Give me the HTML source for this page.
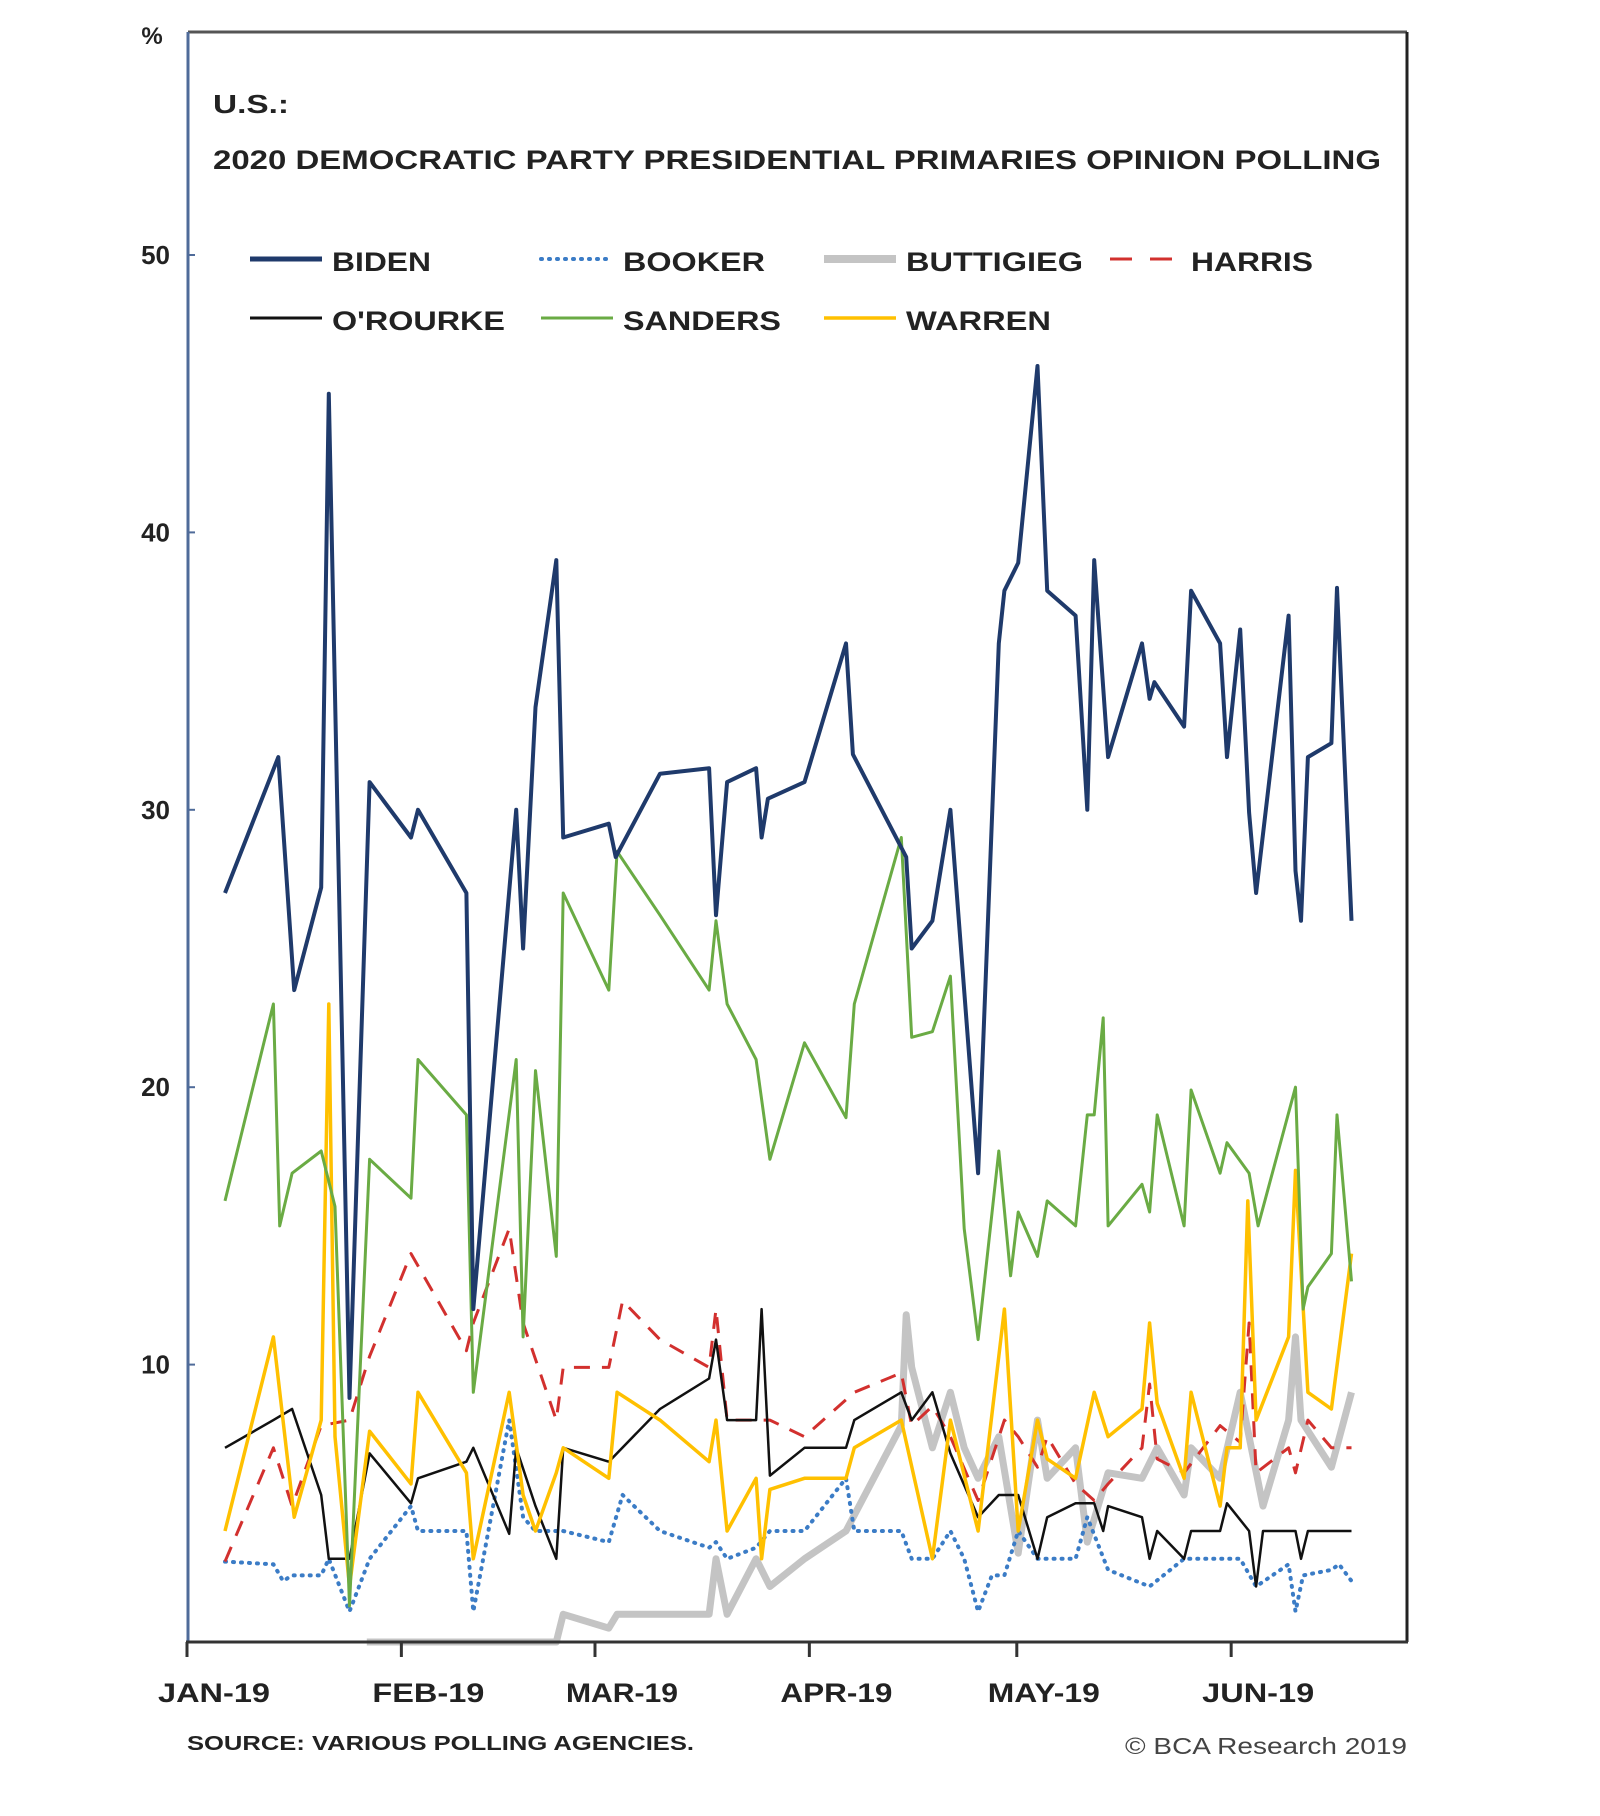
<!DOCTYPE html>
<html><head><meta charset="utf-8"><style>
html,body{margin:0;padding:0;background:#fff;}
svg{display:block;font-family:"Liberation Sans",sans-serif;}
</style></head><body>
<svg id="chart" width="1600" height="1816" viewBox="0 0 1600 1816" xmlns="http://www.w3.org/2000/svg">
<rect x="0" y="0" width="1600" height="1816" fill="#fff"/>
<text x="152" y="44" font-size="24" font-weight="bold" text-anchor="middle" fill="#222">%</text>
<text x="213" y="113" font-size="26" font-weight="bold" fill="#222" textLength="76" lengthAdjust="spacingAndGlyphs">U.S.:</text>
<text x="213" y="169" font-size="27" font-weight="bold" fill="#222" textLength="1168" lengthAdjust="spacingAndGlyphs">2020 DEMOCRATIC PARTY PRESIDENTIAL PRIMARIES OPINION POLLING</text>
<g id="legend"></g>
<g id="marks"></g>
<g id="axes"></g>
<text x="187" y="1750" font-size="20" font-weight="bold" fill="#222" textLength="507" lengthAdjust="spacingAndGlyphs">SOURCE: VARIOUS POLLING AGENCIES.</text>
<text x="1125" y="1754" font-size="23" fill="#444" textLength="282" lengthAdjust="spacingAndGlyphs">© BCA Research 2019</text>
</svg>
<script>
// Data: day-of-year offsets (day 0 = Jan 1 2019) and poll percentages
const bidenDays=[5.5,13.2,15.5,19.4,20.5,23.5,26.4,32.4,33.4,40.4,41.4,47.6,48.6,50.4,53.4,54.4,61,62,68.4,75.5,76.5,78.1,82.3,83.1,84,89.3,95.3,96.3,104,104.8,107.8,110.4,114.4,117.4,118.2,120.2,123,124.4,128.5,130.2,131.2,133.2,138.1,139.2,139.9,144.2,145.2,149.4,150.4,152.3,153.6,154.6,159.3,160.3,161.1,162.1,165.5,166.3,168.4];
const bidenVals=[27,31.9,23.5,27.2,45,8.8,31,29,30,27,12,30,25,33.7,39,29,29.5,28.3,31.3,31.5,26.2,31,31.5,29,30.4,31,36,32,28.3,25,26,30,16.9,36,37.9,38.9,46,37.9,37,30,39,31.9,36,34,34.6,33,37.9,36,31.9,36.5,29.9,27,37,27.8,26,31.9,32.4,38,26];
const sandersDays=[5.5,12.5,13.4,15.2,19.4,21.4,23.5,26.4,32.4,33.4,40.4,41.4,47.6,48.6,50.4,53.4,54.4,61,62.2,68.4,75.5,76.5,78.1,82.3,84.3,89.3,95.3,96.5,103.3,104.8,107.8,110.4,112.4,114.4,117.4,119.1,120.2,123,124.4,128.5,130.2,131.2,132.5,133.2,138.1,139.2,140.3,144.2,145.2,149.4,150.4,153.6,154.9,160.3,161.4,162.1,165.5,166.3,168.4];
const sandersVals=[15.9,23,15,16.9,17.7,15.7,1.3,17.4,16,21,19,9,21,11,20.6,13.9,27,23.5,28.5,26.2,23.5,26,23,21,17.4,21.6,18.9,23,29,21.8,22,24,14.9,10.9,17.7,13.2,15.5,13.9,15.9,15,19,19,22.5,15,16.5,15.5,19,15,19.9,16.9,18,16.9,15,20,12,12.8,14,19,13];
const harrisDays=[5.5,12.5,15.2,19.4,23.5,26.4,32.4,40.4,41.4,46.6,48.6,53.4,54.4,61,63,68.4,75.5,76.5,78.1,82.3,84.3,89.3,96.5,103.3,104.8,107.8,110.4,114.4,118.2,120.2,123,124.4,128.5,131.2,133.2,138.1,139.2,140.3,144.2,149.4,152.3,153.6,154.6,159.3,160.3,162.1,165.5,168.4];
const harrisVals=[2.9,7,4.9,7.8,8,10.3,14,10.5,11.5,14.9,11.5,8,9.9,9.9,12.3,10.9,9.9,12,8,8,8,7.4,9,9.7,7.8,8.5,7.4,5.1,8,7.4,6.3,7.4,5.7,5.1,5.7,7,9.3,6.6,6.1,7.8,7.2,11.5,6.1,7,6.1,8,7,7];
const orourkeDays=[5.5,12.5,15.2,19.4,20.5,23.5,26.4,32.4,33.4,40.4,41.4,46.6,47.6,50.4,53.4,54.4,61,68.4,75.5,76.5,78.1,82.3,83.1,84.3,89.3,95.3,96.5,103.3,104.8,107.8,110.4,114.4,117.4,120.2,123,124.4,128.5,131.2,132.5,133.2,138.1,139.2,140.3,144.2,145.2,149.4,150.4,153.6,154.6,155.6,160.3,161.1,162.1,168.4];
const orourkeVals=[7,8,8.4,5.3,3,3,6.8,5,5.9,6.5,7,3.9,7,4.9,3,7,6.5,8.4,9.5,10.9,8,8,12,6,7,7,8,9,8,9,6.8,4.5,5.3,5.3,3,4.5,5,5,4,4.9,4.5,3,4,3,4,4,5,4,2,4,4,3,4,4];
const warrenDays=[5.5,12.5,15.5,19.4,20.5,21.4,23.5,26.4,32.4,33.4,40.4,41.4,46.6,48.6,50.4,53.4,54.4,61,62.2,68.4,75.5,76.5,78.1,82.3,83.1,84.3,89.3,95.3,96.5,103.3,107.8,110.4,114.4,118.2,120.2,123,124.4,128.5,131.2,133.2,138.1,139.2,140.3,144.2,145.2,149.4,150.4,152.3,153.4,154.6,159.3,160.3,162.1,165.5,168.4];
const warrenVals=[4,11,4.5,8,23,7.4,2,7.6,5.7,9,6.1,3,9,5.3,4,6.1,7,5.9,9,8,6.5,8,4,5.9,3,5.5,5.9,5.9,7,8,3,8,4,12,4,8,6.6,5.9,9,7.4,8.4,11.5,8.6,5.9,9,4.9,7,7,15.9,8,11,17,9,8.4,14];
const bookerDays=[5.5,12.5,13.9,15.2,19.4,20.5,23.5,26.4,32.4,33.4,40.4,41.4,46.6,48.6,50.4,53.4,54.4,61,63,68.4,75.5,76.5,78.1,82.3,84.3,89.3,95.3,96.5,103.3,104.8,107.8,110.4,112.4,114.4,116.4,118.2,120.2,123,128.5,130.2,133.2,139.2,144.2,150.4,152.3,154.6,159.3,160.3,161.4,165.5,166.6,168.4];
const bookerVals=[2.9,2.8,2.2,2.4,2.4,3,1.1,3,4.9,4,4,1.1,8,4.5,4,4,4,3.6,5.3,4,3.4,3.6,3,3.4,4,4,5.9,4,4,3,3,4,3,1.1,2.4,2.4,4,3,3,4.5,2.6,2,3,3,3,2,2.8,1.1,2.4,2.6,2.8,2.2];
const buttigiegDays=[26,53.4,54.4,61,62.2,75.5,76.5,78.1,82.3,84.3,89.3,95.3,103.3,104,104.8,107.8,110.4,112.4,114.4,117.4,120.2,123,124.4,128.5,130.2,133.2,138.1,140.3,144.2,145.2,149.4,152.3,155.6,159.3,160.3,161.1,165.5,168.4];
const buttigiegVals=[0,0,1,0.5,1,1,3,1,3,2,3,4,7.8,11.8,9.9,7,9,7,5.9,7.4,3.2,8,5.9,7,3.6,6.1,5.9,7,5.3,7,5.9,9,4.9,8,11,8,6.3,9];
const yTickVals=[10,20,30,40,50];
const monthLabels=["JAN-19","FEB-19","MAR-19","APR-19","MAY-19","JUN-19"];
const monthDays=[0,31,59,90,120,151];

const X0=187,PXD=6.915,Y0=1642,PXV=27.74;
const xs=d=>X0+d*PXD;
const ys=v=>Y0-v*PXV;
const NS="http://www.w3.org/2000/svg";
const marks=document.getElementById('marks');
const axes=document.getElementById('axes');
const legend=document.getElementById('legend');

const series=[
 ["buttigieg",buttigiegDays,buttigiegVals,"#c4c4c4",7,null],
 ["booker",bookerDays,bookerVals,"#3b7cc6",4,"1 7"],
 ["harris",harrisDays,harrisVals,"#d2302e",3,"16 12"],
 ["orourke",orourkeDays,orourkeVals,"#111111",2.5,null],
 ["warren",warrenDays,warrenVals,"#ffc000",3.5,null],
 ["sanders",sandersDays,sandersVals,"#6aab44",3,null],
 ["biden",bidenDays,bidenVals,"#1f3a6b",4,null]
];
for(const s of series){
  const p=document.createElementNS(NS,'polyline');
  p.setAttribute('points',s[1].map((d,i)=>xs(d).toFixed(1)+','+ys(s[2][i]).toFixed(1)).join(' '));
  p.setAttribute('fill','none');p.setAttribute('stroke',s[3]);p.setAttribute('stroke-width',s[4]);
  p.setAttribute('stroke-linejoin','round');
  if(s[5]){p.setAttribute('stroke-dasharray',s[5]);p.setAttribute('stroke-linecap',s[0]==='booker'?'round':'butt');}
  
  
  marks.appendChild(p);
}
function line(x1,y1,x2,y2,c,w){const l=document.createElementNS(NS,'line');l.setAttribute('x1',x1);l.setAttribute('y1',y1);l.setAttribute('x2',x2);l.setAttribute('y2',y2);l.setAttribute('stroke',c);l.setAttribute('stroke-width',w);return l;}
function text(x,y,t,size,anchor,weight,len){const e=document.createElementNS(NS,'text');e.setAttribute('x',x);e.setAttribute('y',y);e.setAttribute('font-size',size);e.setAttribute('text-anchor',anchor);if(weight)e.setAttribute('font-weight',weight);if(len){e.setAttribute('textLength',len);e.setAttribute('lengthAdjust','spacingAndGlyphs');}e.setAttribute('fill','#222');e.textContent=t;return e;}
// frame
let a=line(188,32,1407,32,'#555',3);


axes.appendChild(a);
a=line(1407,32,1407,1642,'#222',3);


axes.appendChild(a);
a=line(188,32,188,1642,'#4f6b99',3);


axes.appendChild(a);
a=line(186,1642,1408,1642,'#333',3);


axes.appendChild(a);
for(const v of yTickVals){
  const t=line(188,ys(v),195,ys(v),'#4f6b99',2);
  
  
  axes.appendChild(t);
  const l=text(170,ys(v)+9,String(v),26,'end','bold');
  
  
  axes.appendChild(l);
}
monthDays.forEach((d,i)=>{
  const t=line(xs(d),1642,xs(d),1657,'#333',3);
  
  
  axes.appendChild(t);
  const l=text(xs(d)+27,1702,monthLabels[i],27,'middle','bold',112);
  
  
  axes.appendChild(l);
});
// legend
const legItems=[
 ["BIDEN","#1f3a6b",5,null,250,262,99],["BOOKER","#3b7cc6",4,"1 7",541,262,142],["BUTTIGIEG","#c4c4c4",8,null,824,262,177],["HARRIS","#d2302e",3,"22 18",1110,262,122],
 ["O'ROURKE","#111",3,null,250,321,173],["SANDERS","#6aab44",3,null,541,321,158],["WARREN","#ffc000",3.5,null,824,321,145]
];
for(const it of legItems){
  const l=line(it[4],it[5]-3,it[4]+72,it[5]-3,it[1],it[2]);
  if(it[3]){l.setAttribute('stroke-dasharray',it[3]);if(it[0]==="BOOKER")l.setAttribute('stroke-linecap','round');}
  
  
  legend.appendChild(l);
  const tx=it[0]==="HARRIS"?1191:it[4]+82;
  const t=text(tx,it[5]+9,it[0],27,'start','bold',it[6]);
  
  
  legend.appendChild(t);
}
</script>
</body></html>
